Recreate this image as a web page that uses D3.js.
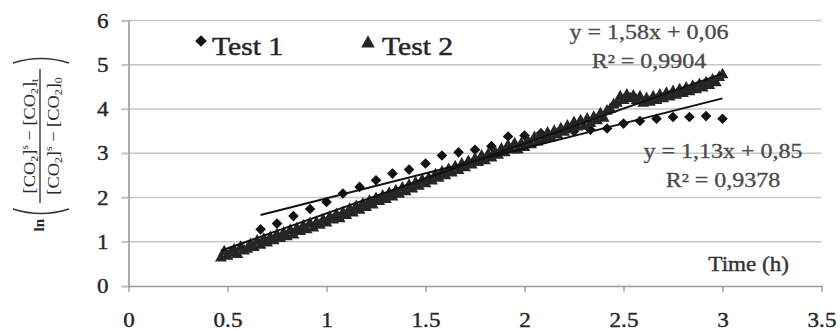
<!DOCTYPE html>
<html>
<head>
<meta charset="utf-8">
<script src="https://cdn.jsdelivr.net/npm/d3@7"></script>
<style>
  body { margin: 0; background: #fff; }
  svg { display: block; }
  text { font-family: "Liberation Serif", "Times New Roman", serif; }
</style>
</head>
<body>
<svg id="chart" width="840" height="331"></svg>
<script>
// ---- data ----
const xTicks = [0, 0.5, 1, 1.5, 2, 2.5, 3, 3.5];
const yTicks = [0, 1, 2, 3, 4, 5, 6];
const seriesNames = ["Test 1", "Test 2"];

// Test 1: sampled every 5 min, time in hours
const test1Time = [0.667, 0.75, 0.833, 0.917, 1.0, 1.083, 1.167, 1.25, 1.333, 1.417,
  1.5, 1.583, 1.667, 1.75, 1.833, 1.917, 2.0, 2.083, 2.167, 2.25,
  2.333, 2.417, 2.5, 2.583, 2.667, 2.75, 2.833, 2.917, 3.0];
const test1Value = [1.28, 1.41, 1.58, 1.74, 1.90, 2.09, 2.24, 2.39, 2.54, 2.63,
  2.77, 2.95, 3.02, 3.08, 3.16, 3.38, 3.40, 3.45, 3.47, 3.50,
  3.53, 3.56, 3.67, 3.73, 3.78, 3.82, 3.82, 3.84, 3.78];

// Test 2: sampled every minute from 28 min to 180 min
const test2StartMin = 28;
const test2Value = [
  0.66, 0.80, 0.70, 0.78, 0.84, 0.74, 0.90, 0.82, 0.86, 0.96,
  0.90, 1.04, 0.95, 1.08, 1.00, 1.12, 1.05, 1.18, 1.10, 1.22,
  1.14, 1.28, 1.18, 1.32, 1.26, 1.38, 1.30, 1.44, 1.34, 1.46,
  1.40, 1.52, 1.45, 1.58, 1.52, 1.64, 1.55, 1.68, 1.62, 1.76,
  1.68, 1.82, 1.74, 1.88, 1.80, 1.94, 1.86, 2.00, 1.94, 2.06,
  1.98, 2.12, 2.04, 2.18, 2.10, 2.24, 2.16, 2.30, 2.22, 2.36,
  2.28, 2.42, 2.34, 2.46, 2.40, 2.54, 2.46, 2.60, 2.52, 2.66,
  2.58, 2.72, 2.64, 2.78, 2.70, 2.84, 2.76, 2.90, 2.82, 2.96,
  2.86, 3.00, 2.92, 3.06, 2.98, 3.12, 3.04, 3.20, 3.10, 3.24,
  3.10, 3.24, 3.16, 3.30, 3.22, 3.38, 3.28, 3.44, 3.34, 3.48,
  3.38, 3.52, 3.44, 3.58, 3.50, 3.64, 3.56, 3.72, 3.62, 3.76,
  3.64, 3.80, 3.70, 3.84, 3.76, 3.92, 3.82, 3.98, 4.02, 4.12,
  4.16, 4.30, 4.22, 4.34, 4.26, 4.32, 4.22, 4.30, 4.16, 4.26,
  4.18, 4.30, 4.22, 4.34, 4.26, 4.38, 4.30, 4.42, 4.34, 4.46,
  4.38, 4.50, 4.42, 4.54, 4.46, 4.58, 4.50, 4.62, 4.56, 4.68,
  4.62, 4.74, 4.80];
const test2Time = test2Value.map((_, i) => (test2StartMin + i) / 60);

// linear trend lines (slope, intercept, R²)
const fitSlope = [1.13, 1.58];
const fitIntercept = [0.85, 0.06];
const fitR2 = [0.9378, 0.9904];

// ---- layout ----
const svg = d3.select("#chart");
const x = d3.scaleLinear().domain([0, 3.5]).range([128.5, 821.5]);
const y = d3.scaleLinear().domain([0, 6]).range([286, 20.5]);

const gridColor = "#c6c6c6";
const axisColor = "#9a9a9a";
const textColor = "#262626";

// stretch text horizontally by factor k
function stretch(sel, k) {
  sel.each(function () {
    const w = this.getComputedTextLength();
    d3.select(this).attr("textLength", w * k).attr("lengthAdjust", "spacingAndGlyphs");
  });
}
// slightly heavier glyphs
function heavy(sel, color, w) {
  sel.attr("stroke", color).attr("stroke-width", w).attr("paint-order", "stroke");
}

// horizontal grid lines
svg.append("g").selectAll("line").data(yTicks.filter(d => d > 0)).join("line")
  .attr("x1", x(0) - 7).attr("x2", x(3.5))
  .attr("y1", d => y(d)).attr("y2", d => y(d))
  .attr("stroke", gridColor).attr("stroke-width", 1.6);

// y axis
const yAxis = svg.append("g").attr("transform", `translate(${x(0)},0)`)
  .call(d3.axisLeft(y).tickValues(yTicks).tickSize(7).tickPadding(13).tickFormat(d3.format("d")));
yAxis.select(".domain").attr("stroke", axisColor).attr("stroke-width", 1.6);
yAxis.selectAll(".tick line").attr("stroke", gridColor).attr("stroke-width", 1.6);
yAxis.selectAll("text").attr("font-size", 21).attr("fill", textColor)
  .attr("font-family", "Liberation Serif");

// x axis
const xAxis = svg.append("g").attr("transform", `translate(0,${y(0)})`)
  .call(d3.axisBottom(x).tickValues(xTicks).tickSize(6).tickSizeOuter(0).tickPadding(20)
    .tickFormat(d => String(d)));
xAxis.select(".domain").attr("stroke", axisColor).attr("stroke-width", 1.6);
xAxis.selectAll(".tick line").attr("stroke", axisColor).attr("stroke-width", 1.4);
xAxis.selectAll("text").attr("font-size", 21).attr("fill", textColor)
  .attr("font-family", "Liberation Serif");
stretch(yAxis.selectAll("text"), 1.1);
stretch(xAxis.selectAll("text"), 1.1);
heavy(yAxis.selectAll("text"), textColor, 0.4);
heavy(xAxis.selectAll("text"), textColor, 0.4);

// marker shapes
const diamond = r => `M0,${-r}L${r},0L0,${r}L${-r},0Z`;
const triangle = r => `M0,${-r}L${r},${r * 0.8}L${-r},${r * 0.8}Z`;

// Test 1 points
svg.append("g").selectAll("path").data(test1Time).join("path")
  .attr("d", diamond(5.3))
  .attr("transform", (d, i) => `translate(${x(d)},${y(test1Value[i])})`)
  .attr("fill", "#121212");

// Test 2 points
svg.append("g").selectAll("path").data(test2Time).join("path")
  .attr("d", triangle(5.9))
  .attr("transform", (d, i) => `translate(${x(d)},${y(test2Value[i])})`)
  .attr("fill", "#262626");

// trend lines
const fitRanges = [d3.extent(test1Time), d3.extent(test2Time)];
svg.append("g").selectAll("line").data(fitSlope).join("line")
  .attr("x1", (d, i) => x(fitRanges[i][0]))
  .attr("x2", (d, i) => x(fitRanges[i][1]))
  .attr("y1", (d, i) => y(d * fitRanges[i][0] + fitIntercept[i]))
  .attr("y2", (d, i) => y(d * fitRanges[i][1] + fitIntercept[i]))
  .attr("stroke", "#111").attr("stroke-width", 2);

// equation labels
const comma = v => d3.format(".2f")(v).replace(".", ",");
const eqPos = [[723, 158], [649, 39]];
const eq = svg.append("g").attr("fill", "#4a4a4a").attr("font-size", 20).attr("text-anchor", "middle");
fitSlope.forEach((s, i) => {
  const t1 = eq.append("text").attr("x", eqPos[i][0]).attr("y", eqPos[i][1])
    .text(`y = ${comma(s)}x + ${comma(fitIntercept[i])}`);
  const t2 = eq.append("text").attr("x", eqPos[i][0]).attr("y", eqPos[i][1] + 29)
    .text(`R² = ${String(fitR2[i]).replace(".", ",")}`);
  stretch(t1, 1.2);
  stretch(t2, 1.2);
  heavy(t1, "#4a4a4a", 0.3);
  heavy(t2, "#4a4a4a", 0.3);
});

// legend
const legend = svg.append("g").attr("fill", textColor).attr("font-size", 26);
legend.append("path").attr("d", diamond(5.8)).attr("transform", "translate(201,41)").attr("fill", "#121212");
legend.append("path").attr("d", triangle(6.8)).attr("transform", "translate(368,42)").attr("fill", "#262626");
const lt1 = legend.append("text").attr("x", 212).attr("y", 55).text(seriesNames[0]);
const lt2 = legend.append("text").attr("x", 382).attr("y", 55).text(seriesNames[1]);
stretch(lt1, 1.14);
stretch(lt2, 1.14);
heavy(lt1, textColor, 0.5);
heavy(lt2, textColor, 0.5);

// x axis title
const xt = svg.append("text").attr("x", 789).attr("y", 271).attr("text-anchor", "end")
  .attr("font-size", 21).attr("fill", "#333").text("Time (h)");
stretch(xt, 1.1);
heavy(xt, "#333", 0.4);

// y axis title: ln of the concentration ratio, rotated
const yt = svg.append("g").attr("transform", "translate(40,136) rotate(-90)")
  .attr("fill", "#2a2a2a");
yt.append("line").attr("x1", -67).attr("x2", 67).attr("y1", 0).attr("y2", 0)
  .attr("stroke", "#333").attr("stroke-width", 1.4);
function fracText(yPos, last) {
  const t = yt.append("text").attr("x", 0).attr("y", yPos).attr("text-anchor", "middle")
    .attr("font-size", 17);
  t.append("tspan").text("[CO");
  t.append("tspan").attr("font-size", 11).attr("dy", 3).text("2");
  t.append("tspan").attr("dy", -3).text("]");
  t.append("tspan").attr("font-size", 11).attr("dy", -7).text("s");
  t.append("tspan").attr("dy", 7).text(" \u2212 [CO");
  t.append("tspan").attr("font-size", 11).attr("dy", 3).text("2");
  t.append("tspan").attr("dy", -3).text("]");
  t.append("tspan").attr("font-size", 11).attr("dy", 3).text(last);
  return t;
}
stretch(fracText(-5, "t"), 1.08);
stretch(fracText(19, "0"), 1.08);
// parentheses
yt.append("path").attr("d", "M-73,-27 Q-82,1 -73,29").attr("fill", "none")
  .attr("stroke", "#333").attr("stroke-width", 1.5);
yt.append("path").attr("d", "M73,-27 Q82,1 73,29").attr("fill", "none")
  .attr("stroke", "#333").attr("stroke-width", 1.5);
yt.append("text").attr("x", -83).attr("y", 4).attr("text-anchor", "end")
  .attr("font-size", 15).attr("font-weight", "bold").text("ln");
</script>
</body>
</html>
